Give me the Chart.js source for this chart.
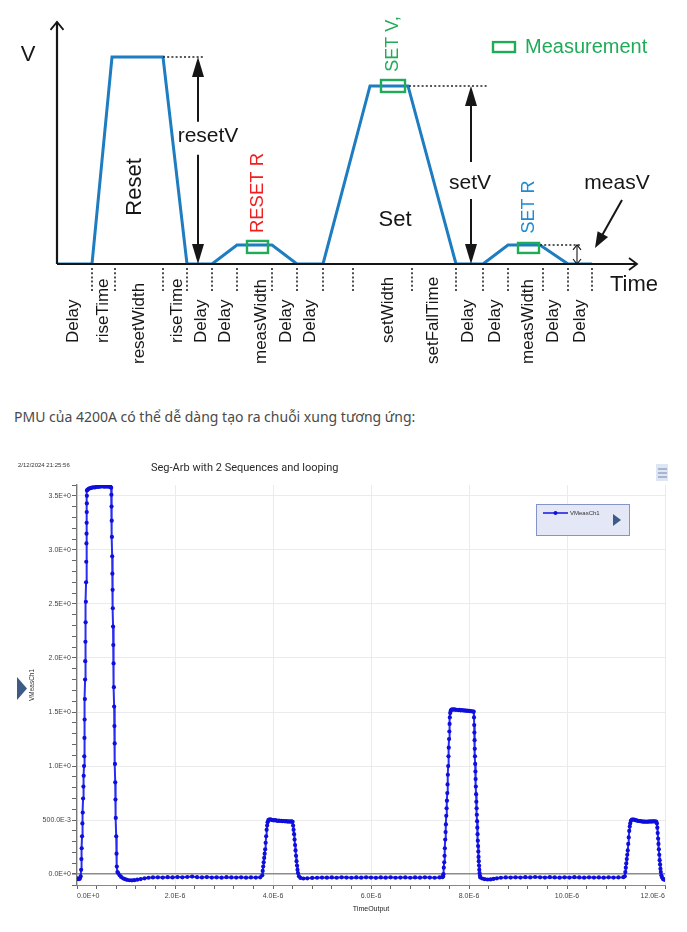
<!DOCTYPE html>
<html><head><meta charset="utf-8">
<script src="https://cdn.jsdelivr.net/npm/chart.js@4.4.1/dist/chart.umd.min.js"></script>
<style>
html,body{margin:0;padding:0;background:#fff;}
body{width:687px;height:932px;position:relative;overflow:hidden;}
#c1{position:absolute;left:0;top:0;}
#c2{position:absolute;left:0;top:440px;}
#caption{position:absolute;left:14px;top:406px;font:14px "Noto Sans",sans-serif;color:#4a4a4a;line-height:22px;white-space:nowrap;}
</style></head><body>
<canvas id="c1" width="687" height="390" style="width:687px;height:390px"></canvas>
<div id="caption">PMU của 4200A có thể dễ dàng tạo ra chuỗi xung tương ứng:</div>
<canvas id="c2" width="687" height="492" style="width:687px;height:492px"></canvas>
<script>
// ---------- Top diagram (schematic units) ----------
const resetV = 10, setV = 8.6, measV = 0.92;
const waveT = [0, 3.5, 5.5, 10.6, 13.0, 15.5, 18.0, 21.5, 24.0, 26.6, 31.3, 35.1, 39.9, 42.6, 45.1, 48.3, 51.1, 53.5];
const waveV = [0, 0, resetV, resetV, 0, 0, measV, measV, 0, 0, setV, setV, 0, 0, measV, measV, 0, 0];
const boundaryT = [3.5, 5.8, 10.6, 13.0, 15.5, 18.0, 21.5, 24.0, 26.6, 29.6, 35.5, 39.9, 42.6, 45.1, 48.6, 51.1, 53.5];
const segLabels = ['Delay','riseTime','resetWidth','riseTime','Delay','Delay','measWidth','Delay','Delay','setWidth','setFallTime','Delay','Delay','measWidth','Delay','Delay'];
const segLabelT = [1.6, 4.6, 8.2, 12.0, 14.4, 16.8, 20.4, 22.9, 25.3, 33.1, 37.6, 41.1, 43.8, 47.1, 49.6, 52.3];
const segLabelLong = [0,0,1,0,0,0,1,0,0,0,1,0,0,1,0,0];

// ---------- Bottom chart: VMeasCh1 (time in µs, volts) ----------
const preBase = [[0.00,-0.045],[0.02,-0.040],[0.04,-0.046],[0.06,-0.041],[0.075,-0.020]];
const pulse1Rise = [[0.084,0.04],[0.090,0.14],[0.096,0.24],[0.103,0.35],[0.110,0.47],[0.117,0.57],[0.124,0.70],[0.131,0.81],[0.137,0.91],[0.143,1.00],[0.148,1.09],[0.152,1.26],[0.156,1.43],[0.161,1.62],[0.165,1.80],[0.168,1.97],[0.172,2.15],[0.176,2.33],[0.181,2.52],[0.185,2.70],[0.189,2.89],[0.193,3.06],[0.195,3.15],[0.197,3.25],[0.199,3.35],[0.201,3.43],[0.202,3.50],[0.204,3.55]];
const pulse1Top = [[0.215,3.556],[0.235,3.564],[0.26,3.569],[0.285,3.573],[0.31,3.576],[0.335,3.579],[0.36,3.577],[0.385,3.581],[0.41,3.584],[0.435,3.582],[0.46,3.587],[0.485,3.585],[0.51,3.589],[0.535,3.586],[0.56,3.584],[0.585,3.588],[0.61,3.585],[0.635,3.587],[0.66,3.583],[0.68,3.585],[0.697,3.575]];
const pulse1Fall = [[0.702,3.51],[0.705,3.40],[0.709,3.27],[0.713,3.12],[0.718,2.94],[0.722,2.78],[0.727,2.63],[0.731,2.46],[0.736,2.29],[0.741,2.12],[0.746,1.95],[0.753,1.73],[0.758,1.55],[0.764,1.37],[0.769,1.21],[0.775,1.02],[0.780,0.85],[0.785,0.69],[0.791,0.52],[0.800,0.35],[0.807,0.19],[0.813,0.07],[0.825,0.02]];
const baseA = [[0.84,0.01],[0.87,-0.01],[0.90,-0.025],[0.94,-0.038],[0.98,-0.046],[1.02,-0.052],[1.07,-0.056],[1.12,-0.057],[1.17,-0.055],[1.23,-0.051],[1.30,-0.045],[1.38,-0.038],[1.46,-0.033],[1.55,-0.030],[1.65,-0.029],[1.75,-0.031],[1.85,-0.028],[1.95,-0.030],[2.05,-0.027],[2.15,-0.029],[2.25,-0.026],[2.35,-0.022],[2.45,-0.028],[2.55,-0.030],[2.65,-0.027],[2.75,-0.031],[2.85,-0.029],[2.95,-0.032],[3.05,-0.028],[3.15,-0.030],[3.25,-0.031],[3.35,-0.029],[3.45,-0.032],[3.55,-0.030],[3.65,-0.031],[3.74,-0.029]];
const pulse2Rise = [[3.78,-0.01],[3.79,0.03],[3.80,0.07],[3.81,0.11],[3.82,0.15],[3.83,0.19],[3.84,0.23],[3.85,0.29],[3.86,0.35],[3.87,0.41],[3.88,0.45],[3.89,0.48],[3.905,0.50]];
const pulse2Top = [[3.92,0.505],[3.945,0.507],[3.97,0.503],[3.995,0.500],[4.02,0.498],[4.045,0.500],[4.07,0.496],[4.095,0.494],[4.12,0.495],[4.145,0.492],[4.17,0.494],[4.195,0.490],[4.22,0.492],[4.245,0.489],[4.27,0.490],[4.295,0.487],[4.32,0.489],[4.345,0.486],[4.37,0.488],[4.39,0.486]];
const pulse2Fall = [[4.40,0.485],[4.41,0.45],[4.42,0.41],[4.43,0.37],[4.44,0.32],[4.45,0.27],[4.46,0.22],[4.47,0.17],[4.48,0.12],[4.49,0.08],[4.50,0.04],[4.51,0.01],[4.53,-0.02]];
const baseB = [[4.56,-0.035],[4.62,-0.040],[4.70,-0.038],[4.80,-0.035],[4.90,-0.033],[5.00,-0.031],[5.10,-0.032],[5.20,-0.030],[5.30,-0.033],[5.40,-0.029],[5.50,-0.031],[5.60,-0.033],[5.70,-0.030],[5.80,-0.032],[5.90,-0.029],[6.00,-0.031],[6.10,-0.034],[6.20,-0.030],[6.30,-0.032],[6.40,-0.029],[6.50,-0.033],[6.60,-0.031],[6.70,-0.030],[6.80,-0.033],[6.90,-0.030],[7.00,-0.032],[7.10,-0.029],[7.20,-0.031],[7.30,-0.033],[7.40,-0.030],[7.46,-0.028]];
const pulse3Rise = [[7.470,-0.02],[7.478,0.00],[7.486,0.06],[7.494,0.11],[7.501,0.17],[7.508,0.24],[7.515,0.32],[7.522,0.39],[7.529,0.46],[7.536,0.54],[7.543,0.61],[7.550,0.68],[7.557,0.75],[7.563,0.83],[7.569,0.92],[7.575,1.00],[7.581,1.09],[7.587,1.17],[7.593,1.25],[7.599,1.32],[7.604,1.39],[7.609,1.45],[7.616,1.49],[7.626,1.51],[7.638,1.52]];
const pulse3Top = [[7.655,1.524],[7.68,1.522],[7.705,1.525],[7.73,1.520],[7.755,1.521],[7.78,1.518],[7.805,1.519],[7.83,1.516],[7.855,1.517],[7.88,1.514],[7.905,1.515],[7.93,1.512],[7.955,1.513],[7.98,1.510],[8.005,1.511],[8.03,1.508],[8.055,1.507],[8.08,1.505],[8.097,1.503]];
const pulse3Fall = [[8.102,1.45],[8.106,1.38],[8.110,1.31],[8.114,1.24],[8.118,1.16],[8.122,1.09],[8.126,1.02],[8.131,0.95],[8.135,0.88],[8.140,0.81],[8.145,0.74],[8.150,0.67],[8.155,0.61],[8.160,0.55],[8.165,0.49],[8.170,0.43],[8.175,0.37],[8.180,0.31],[8.185,0.26],[8.190,0.21],[8.195,0.16],[8.200,0.12],[8.205,0.08],[8.210,0.04],[8.216,0.01],[8.224,-0.015]];
const baseC = [[8.23,-0.030],[8.27,-0.040],[8.32,-0.046],[8.38,-0.049],[8.44,-0.048],[8.50,-0.044],[8.57,-0.038],[8.65,-0.033],[8.75,-0.030],[8.85,-0.031],[8.95,-0.029],[9.05,-0.031],[9.15,-0.028],[9.25,-0.030],[9.35,-0.026],[9.45,-0.029],[9.55,-0.031],[9.65,-0.028],[9.75,-0.030],[9.85,-0.032],[9.95,-0.029],[10.05,-0.031],[10.15,-0.028],[10.25,-0.030],[10.35,-0.032],[10.45,-0.029],[10.55,-0.031],[10.65,-0.030],[10.75,-0.032],[10.85,-0.029],[10.95,-0.031],[11.05,-0.030],[11.15,-0.028]];
const pulse4Rise = [[11.18,-0.02],[11.19,0.02],[11.20,0.06],[11.21,0.10],[11.22,0.14],[11.23,0.18],[11.24,0.22],[11.25,0.28],[11.26,0.34],[11.27,0.40],[11.28,0.44],[11.29,0.47],[11.305,0.495],[11.325,0.505]];
const pulse4Top = [[11.345,0.506],[11.37,0.504],[11.395,0.500],[11.42,0.497],[11.445,0.494],[11.47,0.492],[11.495,0.490],[11.52,0.489],[11.545,0.487],[11.57,0.486],[11.595,0.486],[11.62,0.485],[11.645,0.487],[11.67,0.486],[11.695,0.488],[11.72,0.487],[11.745,0.489],[11.77,0.488],[11.795,0.489],[11.82,0.487]];
const pulse4Fall = [[11.835,0.47],[11.843,0.43],[11.851,0.38],[11.859,0.33],[11.867,0.28],[11.875,0.23],[11.883,0.18],[11.891,0.13],[11.899,0.09],[11.907,0.05],[11.915,0.02],[11.925,-0.01],[11.94,-0.03],[11.96,-0.045],[11.98,-0.05],[12.0,-0.05]];

const xTickValues = [0, 2, 4, 6, 8, 10, 12];
const xTickLabels = ['0.0E+0','2.0E-6','4.0E-6','6.0E-6','8.0E-6','10.0E-6','12.0E-6'];
const yTickValues = [0, 0.5, 1.0, 1.5, 2.0, 2.5, 3.0, 3.5];
const yTickLabels = ['0.0E+0','500.0E-3','1.0E+0','1.5E+0','2.0E+0','2.5E+0','3.0E+0','3.5E+0'];

const seriesName = 'VMeasCh1';
const chartTitle = 'Seg-Arb with 2 Sequences and looping';
const timeStamp = '2/12/2024 21:25:56';

// ---------- helpers ----------
function seg(ctx,x1,y1,x2,y2){ctx.beginPath();ctx.moveTo(x1,y1);ctx.lineTo(x2,y2);ctx.stroke();}
function headPts(tx,ty,fx,fy,len,hw){
  const a=Math.atan2(ty-fy,tx-fx),c=Math.cos(a),s=Math.sin(a);
  return [[tx-len*c+hw*s,ty-len*s-hw*c],[tx,ty],[tx-len*c-hw*s,ty-len*s+hw*c]];
}
function fillHead(ctx,tx,ty,fx,fy,len,hw){const p=headPts(tx,ty,fx,fy,len,hw);ctx.beginPath();ctx.moveTo(p[0][0],p[0][1]);ctx.lineTo(p[1][0],p[1][1]);ctx.lineTo(p[2][0],p[2][1]);ctx.closePath();ctx.fill();}
function openHead(ctx,tx,ty,fx,fy,len,hw){const p=headPts(tx,ty,fx,fy,len,hw);ctx.beginPath();ctx.moveTo(p[0][0],p[0][1]);ctx.lineTo(p[1][0],p[1][1]);ctx.lineTo(p[2][0],p[2][1]);ctx.stroke();}
function txt(ctx,s,x,y,font,color,align,rot){ctx.save();ctx.translate(x,y);if(rot)ctx.rotate(rot);ctx.font=font;ctx.fillStyle=color;ctx.textAlign=align||'center';ctx.textBaseline='middle';ctx.fillText(s,0,0);ctx.restore();}

const HF = '"Liberation Sans", Arial, Helvetica, sans-serif';
const GREEN = '#1fab58', BLACK = '#161616';

const diagramDecor = {
  id:'diagramDecor',
  afterDatasetsDraw(chart){
    const ctx=chart.ctx, xs=chart.scales.x, ys=chart.scales.y;
    const X=v=>xs.getPixelForValue(v), Y=v=>ys.getPixelForValue(v);
    const y0=Y(0);
    ctx.save();
    ctx.lineCap='butt'; ctx.lineJoin='miter';
    ctx.strokeStyle=BLACK; ctx.lineWidth=2.2;
    seg(ctx,X(0),y0,X(58),y0);
    seg(ctx,X(0),y0,X(0),Y(11.7));
    ctx.lineWidth=1.8;
    openHead(ctx,X(0),Y(11.7),X(0),y0,8,6.5);
    openHead(ctx,X(58),y0,X(0),y0,8,6);
    ctx.setLineDash([2,2.2]); ctx.lineWidth=1.6; ctx.strokeStyle='#222';
    boundaryT.forEach(t=>seg(ctx,X(t),y0+4,X(t),y0+29));
    seg(ctx,X(10.6),Y(resetV),X(14.8),Y(resetV));
    seg(ctx,X(35.2),Y(setV),X(43.1),Y(setV));
    seg(ctx,X(48.3),Y(measV),X(52.3),Y(measV));
    ctx.setLineDash([]);
    segLabels.forEach((s,i)=>txt(ctx,s,X(segLabelT[i]),y0+(segLabelLong[i]?100:79),'17px '+HF,BLACK,'left',-Math.PI/2));
    ctx.fillStyle=BLACK; ctx.strokeStyle=BLACK; ctx.lineWidth=2;
    let ax=X(14.1), ty=Y(resetV), tyT=Y(resetV*0.615);
    seg(ctx,ax,ty+18,ax,tyT-15); seg(ctx,ax,tyT+18,ax,y0-18);
    fillHead(ctx,ax,ty,ax,y0,20,6); fillHead(ctx,ax,y0,ax,ty,20,6);
    txt(ctx,'resetV',X(15.1),tyT,'21px '+HF,BLACK);
    ax=X(41.4); ty=Y(setV); tyT=Y(setV*0.455);
    seg(ctx,ax,ty+18,ax,tyT-21); seg(ctx,ax,tyT+16,ax,y0-18);
    fillHead(ctx,ax,ty,ax,y0,20,6); fillHead(ctx,ax,y0,ax,ty,20,6);
    txt(ctx,'setV',X(41.3),tyT,'21px '+HF,BLACK);
    ctx.lineWidth=1.1; ax=X(52.0);
    seg(ctx,ax,Y(measV),ax,y0);
    openHead(ctx,ax,Y(measV),ax,y0,5,4); openHead(ctx,ax,y0,ax,Y(measV),5,4);
    txt(ctx,'measV',X(56.0),Y(3.91),'21px '+HF,BLACK);
    ctx.lineWidth=2;
    const mx1=X(56.5),my1=Y(3.09),mx2=X(53.8),my2=Y(0.77);
    const d=Math.hypot(mx2-mx1,my2-my1);
    seg(ctx,mx1,my1,mx2-(mx2-mx1)/d*14,my2-(my2-my1)/d*14);
    fillHead(ctx,mx2,my2,mx1,my1,16,6);
    txt(ctx,'V',X(-2.9),Y(10.1),'22px '+HF,BLACK);
    txt(ctx,'Time',X(55.3),Y(-1.01),'22px '+HF,BLACK,'left');
    txt(ctx,'Reset',X(7.8),Y(3.72),'22px '+HF,BLACK,'center',-Math.PI/2);
    txt(ctx,'Set',X(33.8),Y(2.13),'22px '+HF,BLACK);
    txt(ctx,'RESET R',X(20.1),Y(3.43),'18.5px '+HF,'#f01e1e','center',-Math.PI/2);
    txt(ctx,'SET V,',X(33.6),Y(10.63),'18px '+HF,GREEN,'center',-Math.PI/2);
    txt(ctx,'SET R',X(47.2),Y(2.75),'18px '+HF,'#1f8bd2','center',-Math.PI/2);
    ctx.strokeStyle=GREEN; ctx.lineWidth=2.4;
    ctx.strokeRect(X(20.05)-10.5,Y(measV)-4,21,12);
    ctx.strokeRect(X(33.6)-12,Y(setV)-6,24,12);
    ctx.strokeRect(X(47.15)-10.5,Y(measV)-2,21,10);
    ctx.strokeRect(X(43.6),Y(10.72),X(45.8)-X(43.6),Y(10.24)-Y(10.72));
    txt(ctx,'Measurement',X(46.8),Y(10.48),'20px '+HF,GREEN,'left');
    ctx.restore();
  }
};

new Chart(document.getElementById('c1'),{
  type:'line',
  data:{datasets:[{data:waveT.map((t,i)=>({x:t,y:waveV[i]})),borderColor:'#1e7dc1',borderWidth:3,pointRadius:0,tension:0,fill:false}]},
  options:{
    responsive:false,animation:false,
    layout:{padding:{left:57,right:50,top:15.6,bottom:126}},
    plugins:{legend:{display:false},tooltip:{enabled:false},title:{display:false}},
    scales:{
      x:{type:'linear',min:0,max:58,display:false},
      y:{type:'linear',min:0,max:12,display:false}
    }
  },
  plugins:[diagramDecor]
});

// ---------- bottom chart ----------
const allPoints = [preBase,pulse1Rise,pulse1Top,pulse1Fall,baseA,pulse2Rise,pulse2Top,pulse2Fall,baseB,pulse3Rise,pulse3Top,pulse3Fall,baseC,pulse4Rise,pulse4Top,pulse4Fall]
  .flat().map(p=>({x:p[0],y:p[1]}));
const near=(a,b)=>Math.abs(a-b)<1e-6;
const xMajor=v=>xTickValues.some(t=>near(t,v));
const yMajor=v=>yTickValues.some(t=>near(t,v));
const SF='"Liberation Sans", Arial, sans-serif';

const screenDecor = {
  id:'screenDecor',
  afterDraw(chart){
    const ctx=chart.ctx;
    ctx.save();
    txt(ctx,timeStamp,18,25,'6px '+SF,'#333','left');
    txt(ctx,chartTitle,151,28,'11px Roboto, "Liberation Sans", sans-serif','#2a2a2a','left');
    ctx.fillStyle='#dfe6f3'; ctx.fillRect(656,24,12,17);
    ctx.strokeStyle='#7d8db3'; ctx.lineWidth=1.1;
    [29,33,37].forEach(y=>seg(ctx,658,y,667,y));
    ctx.fillStyle='#3e5b87';
    ctx.beginPath(); ctx.moveTo(17,237); ctx.lineTo(27,248.5); ctx.lineTo(17,260); ctx.closePath(); ctx.fill();
    ctx.fillStyle='#e4e8f6'; ctx.fillRect(536,64,94,32);
    ctx.strokeStyle='#8594c6'; ctx.lineWidth=1; ctx.strokeRect(536.5,64.5,93,31);
    ctx.strokeStyle='#1414e0'; ctx.lineWidth=1.5; seg(ctx,543,73,568,73);
    ctx.fillStyle='#1010dc'; ctx.beginPath(); ctx.arc(555.5,73,2,0,Math.PI*2); ctx.fill();
    txt(ctx,seriesName,570,73,'6px '+SF,'#333','left');
    ctx.fillStyle='#3e5b87';
    ctx.beginPath(); ctx.moveTo(613,74); ctx.lineTo(621,80); ctx.lineTo(613,86); ctx.closePath(); ctx.fill();
    ctx.restore();
  }
};

new Chart(document.getElementById('c2'),{
  type:'line',
  data:{datasets:[{label:seriesName,data:allPoints,borderColor:'rgba(25,25,240,0.92)',borderWidth:2,
    pointRadius:2.1,pointBorderWidth:0,pointBackgroundColor:'#0f0fdc',tension:0,fill:false}]},
  options:{
    responsive:false,animation:false,
    layout:{padding:{left:0,right:22,top:45,bottom:0}},
    plugins:{legend:{display:false},tooltip:{enabled:false},title:{display:false}},
    scales:{
      x:{type:'linear',min:0,max:12,
        afterFit:s=>{s.height=47;},
        ticks:{stepSize:0.4,autoSkip:false,maxRotation:0,minRotation:0,align:'inner',padding:3,
          font:{size:7,family:SF},color:'#444',
          callback:v=>{const i=xTickValues.findIndex(t=>near(t,v));return i>=0?xTickLabels[i]:'';}},
        grid:{color:c=>xMajor(c.tick.value)?'#ebebeb':'rgba(0,0,0,0)',tickColor:'#666',tickLength:4,lineWidth:1},
        border:{display:true,color:'#888',width:1},
        title:{display:true,text:'TimeOutput',font:{size:7,family:SF},color:'#222',padding:{top:0,bottom:18.8}}
      },
      y:{type:'linear',min:-0.1,max:3.6,
        afterFit:s=>{s.width=77;},
        ticks:{stepSize:0.1,autoSkip:false,padding:1,font:{size:7,family:SF},color:'#444',
          callback:v=>{const i=yTickValues.findIndex(t=>near(t,v));return i>=0?yTickLabels[i]:'';}},
        grid:{color:c=>near(c.tick.value,0)?'#8c8c8c':(yMajor(c.tick.value)?'#ebebeb':'rgba(0,0,0,0)'),
          lineWidth:c=>near(c.tick.value,0)?1.6:1,tickColor:'#666',tickLength:5},
        border:{display:true,color:'#777',width:1.3},
        title:{display:true,text:'VMeasCh1',font:{size:6.5,family:SF},color:'#333',padding:{top:28.8,bottom:0}}
      }
    }
  },
  plugins:[screenDecor]
});
</script>
</body></html>
